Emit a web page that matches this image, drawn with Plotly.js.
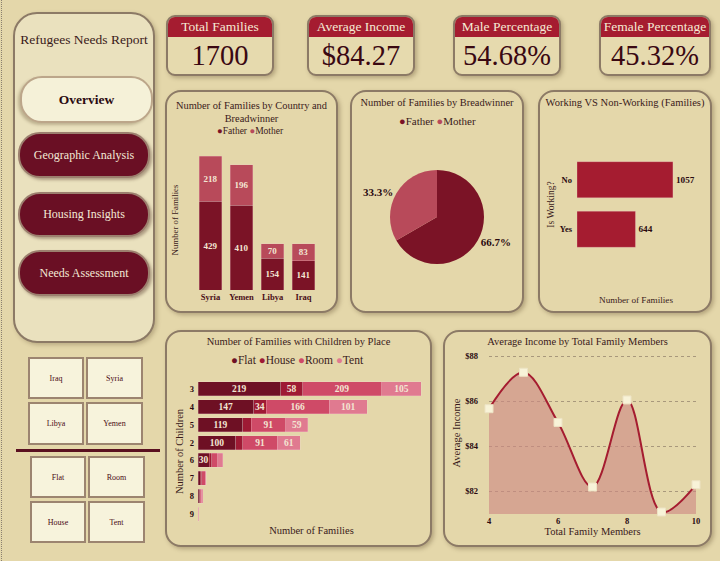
<!DOCTYPE html>
<html>
<head>
<meta charset="utf-8">
<script src="https://cdn.plot.ly/plotly-3.0.1.min.js"></script>
<style>
  html,body{margin:0;padding:0;}
  body{width:720px;height:561px;background:#E4D7AA;font-family:"Liberation Serif","Times New Roman",serif;overflow:hidden;position:relative;}
  .abs{position:absolute;box-sizing:border-box;}
  .panel{border:2px solid #8C7A66;border-radius:16px;box-shadow:2px 2px 4px rgba(90,70,40,0.35);background:#E4D7AA;}
  .side{border:2px solid #8C7A66;border-radius:24px;background:#EAE1BE;box-shadow:2px 2px 4px rgba(90,70,40,0.3);}
  .navtitle{text-align:center;font-size:13.5px;color:#3A1A1A;}
  .btn{border-radius:22px;display:flex;align-items:center;justify-content:center;font-size:12px;}
  .btn.on{background:#F5F1D8;border:2px solid #BCA68A;color:#2A0A10;font-weight:bold;font-size:13.5px;box-shadow:-2px 2px 3px rgba(90,70,40,0.3);}
  .btn.off{background:#6A0F24;border:2px solid #9C7F6E;color:#F3E9D6;box-shadow:2px 2px 3px rgba(60,30,20,0.35);}
  .tile{background:#F7F3DC;border:2px solid #9C8470;display:flex;align-items:center;justify-content:center;font-size:8px;color:#4A0A14;}
  .kpi{border:2px solid #8C7A66;border-radius:9px;background:#E6DAAE;overflow:hidden;box-shadow:2px 2px 4px rgba(90,70,40,0.35);}
  .kpi .hd{height:20px;background:#A51C30;color:#F5EBD5;font-size:13.5px;text-align:center;line-height:20px;white-space:nowrap;}
  .kpi .val{text-align:center;font-size:28.5px;color:#3A0812;line-height:38px;white-space:nowrap;}
  .plot{position:absolute;}
</style>
</head>
<body>
<div class="abs" style="left:1px;top:0;width:0;height:561px;border-left:1px dotted #8A8070;"></div>

<!-- side navigation -->
<div class="abs side" style="left:13px;top:12px;width:142px;height:331px;"></div>
<div class="abs navtitle" style="left:13px;top:32px;width:142px;">Refugees Needs Report</div>
<div class="abs btn on" style="left:20px;top:76px;width:133px;height:47px;">Overview</div>
<div class="abs btn off" style="left:18px;top:132px;width:132px;height:46px;">Geographic Analysis</div>
<div class="abs btn off" style="left:18px;top:192px;width:132px;height:45px;">Housing Insights</div>
<div class="abs btn off" style="left:18px;top:250px;width:132px;height:46px;">Needs Assessment</div>

<!-- slicers -->
<div class="abs tile" style="left:28px;top:357px;width:56px;height:42px;">Iraq</div>
<div class="abs tile" style="left:86px;top:357px;width:57px;height:42px;">Syria</div>
<div class="abs tile" style="left:28px;top:402px;width:56px;height:43px;">Libya</div>
<div class="abs tile" style="left:86px;top:402px;width:57px;height:43px;">Yemen</div>
<div class="abs" style="left:16px;top:449px;width:144px;height:3px;background:#5A1020;"></div>
<div class="abs tile" style="left:30px;top:456px;width:56px;height:42px;">Flat</div>
<div class="abs tile" style="left:88px;top:456px;width:57px;height:42px;">Room</div>
<div class="abs tile" style="left:30px;top:501px;width:56px;height:42px;">House</div>
<div class="abs tile" style="left:88px;top:501px;width:57px;height:42px;">Tent</div>

<!-- KPI cards -->
<div class="abs kpi" style="left:166px;top:15px;width:108px;height:61px;"><div class="hd" id="k1h"></div><div class="val" id="k1v"></div></div>
<div class="abs kpi" style="left:307px;top:15px;width:108px;height:61px;"><div class="hd" id="k2h"></div><div class="val" id="k2v"></div></div>
<div class="abs kpi" style="left:453px;top:15px;width:108px;height:61px;"><div class="hd" id="k3h"></div><div class="val" id="k3v"></div></div>
<div class="abs kpi" style="left:599px;top:15px;width:112px;height:61px;"><div class="hd" id="k4h"></div><div class="val" id="k4v"></div></div>

<!-- chart panels -->
<div class="abs panel" style="left:165px;top:90px;width:173px;height:223px;"></div>
<div class="abs panel" style="left:350px;top:90px;width:174px;height:223px;"></div>
<div class="abs panel" style="left:538px;top:90px;width:174px;height:223px;"></div>
<div class="abs panel" style="left:165px;top:330px;width:267px;height:217px;"></div>
<div class="abs panel" style="left:443px;top:330px;width:269px;height:217px;"></div>

<div id="c1" class="plot" style="left:165px;top:90px;width:173px;height:223px;"></div>
<div id="c2" class="plot" style="left:350px;top:90px;width:174px;height:223px;"></div>
<div id="c3" class="plot" style="left:538px;top:90px;width:174px;height:223px;"></div>
<div id="c4" class="plot" style="left:165px;top:330px;width:267px;height:217px;"></div>
<div id="c5" class="plot" style="left:443px;top:330px;width:269px;height:217px;"></div>

<script>
// ---------- data ----------
const kpiLabels = ['Total Families', 'Average Income', 'Male Percentage', 'Female Percentage'];
const kpiValues = ['1700', '$84.27', '54.68%', '45.32%'];

const countries = ['Syria', 'Yemen', 'Libya', 'Iraq'];
const fatherByCountry = [429, 410, 154, 141];
const motherByCountry = [218, 196, 70, 83];

const breadwinners = ['Father', 'Mother'];
const breadwinnerFamilies = [1134, 567];

const workingLabels = ['No', 'Yes'];
const workingFamilies = [1057, 644];

const childrenCounts = ['3', '4', '5', '2', '6', '7', '8', '9'];
const flatFamilies  = [219, 147, 119, 100, 30, 6, 4, 1];
const houseFamilies = [58, 34, 22, 19, 6, 4, 2, 0];
const roomFamilies  = [209, 166, 91, 91, 16, 9, 3, 1];
const tentFamilies  = [105, 101, 59, 61, 13, 3, 4, 0];
const places = ['Flat', 'House', 'Room', 'Tent'];

const familyMembers = [4, 5, 6, 7, 8, 9, 10];
const avgIncome = [85.68, 87.30, 85.07, 82.20, 86.07, 81.09, 82.30];
const incomeTicks = [82, 84, 86, 88];

// ---------- styles ----------
const FONT = '"Liberation Serif", "Times New Roman", serif';
const DARK = '#3A1A1A';
const C_FATHER = '#7B1326', C_MOTHER = '#B84A5A';
const PLACE_COLORS = ['#6E1024', '#9E1A34', '#CF4A67', '#E07A90'];
const LABEL_CREAM = '#F3E6D3';
const cfg = {staticPlot: true, displayModeBar: false};

kpiLabels.forEach((t, i) => {
  document.getElementById('k' + (i + 1) + 'h').textContent = t;
  document.getElementById('k' + (i + 1) + 'v').textContent = kpiValues[i];
});

function baseLayout(extra) {
  return Object.assign({
    paper_bgcolor: 'rgba(0,0,0,0)',
    plot_bgcolor: 'rgba(0,0,0,0)',
    font: {family: FONT, color: DARK},
    showlegend: false
  }, extra);
}
function dotLegend(names, colors) {
  return names.map((n, i) => '<span style="color:' + colors[i] + '">●</span>' + n).join(' ');
}

// ---------- chart 1: country stacked bars ----------
Plotly.newPlot('c1', [
  {type: 'bar', name: 'Father', x: countries, y: fatherByCountry, marker: {color: C_FATHER, line: {width: 0.5, color: 'rgba(240,200,200,0.6)'}},
   text: fatherByCountry, textposition: 'inside', insidetextanchor: 'middle', textangle: 0, constraintext: 'none',
   textfont: {family: FONT, size: 9, color: LABEL_CREAM, weight: 'bold'}},
  {type: 'bar', name: 'Mother', x: countries, y: motherByCountry, marker: {color: C_MOTHER, line: {width: 0.5, color: 'rgba(240,200,200,0.6)'}},
   text: motherByCountry, textposition: 'inside', insidetextanchor: 'middle', textangle: 0, constraintext: 'none',
   textfont: {family: FONT, size: 9, color: LABEL_CREAM, weight: 'bold'}}
], baseLayout({
  width: 173, height: 223,
  margin: {l: 30, r: 19, t: 60, b: 23},
  barmode: 'stack', bargap: 0.26,
  title: {text: 'Number of Families by Country and<br>Breadwinner', font: {size: 10.4, color: DARK}, x: 0.5, xanchor: 'center', y: 1 - 18.5 / 223, yanchor: 'middle', yref: 'container'},
  xaxis: {showgrid: false, zeroline: false, showline: false, ticks: '', tickfont: {size: 8.5, color: '#4A0E18', weight: 'bold'}},
  yaxis: {range: [0, 676], showgrid: false, zeroline: false, showticklabels: false, ticks: '',
          title: {text: 'Number of Families', font: {size: 8.8, color: DARK}, standoff: 13}},
  annotations: [{xref: 'paper', yref: 'paper', x: 0.45, y: 1 + (150 - 131) / 140, xanchor: 'center', yanchor: 'middle', showarrow: false,
                 text: dotLegend(breadwinners, [C_FATHER, C_MOTHER]), font: {size: 9.5, color: DARK}}]
}), cfg);

// ---------- chart 2: pie ----------
Plotly.newPlot('c2', [{
  type: 'pie', labels: breadwinners, values: breadwinnerFamilies, sort: false, direction: 'clockwise', rotation: 0,
  marker: {colors: [C_FATHER, C_MOTHER]}, textinfo: 'percent', texttemplate: '%{percent:.1%}', textposition: 'outside',
  textfont: {family: FONT, size: 11, color: '#2A0A10', weight: 'bold'}, hole: 0
}], baseLayout({
  width: 174, height: 223,
  margin: {l: 40, r: 40, t: 80, b: 49},
  title: {text: 'Number of Families by Breadwinner', font: {size: 10.4, color: DARK}, x: 0.5, xanchor: 'center', y: 1 - 12 / 223, yanchor: 'middle', yref: 'container'},
  annotations: [{xref: 'paper', yref: 'paper', x: 0.5, y: 1 + (127 - 47 - 30.7) / 94, xanchor: 'center', yanchor: 'middle', showarrow: false,
                 text: dotLegend(breadwinners, [C_FATHER, C_MOTHER]), font: {size: 11, color: DARK}}]
}), cfg);

// ---------- chart 3: working ----------
Plotly.newPlot('c3', [{
  type: 'bar', orientation: 'h', x: workingFamilies, y: workingLabels, marker: {color: '#A51C30', line: {width: 0.5, color: 'rgba(240,200,200,0.6)'}},
  text: workingFamilies, textposition: 'outside', cliponaxis: false,
  textfont: {family: FONT, size: 9.2, color: '#2A0A10', weight: 'bold'}
}], baseLayout({
  width: 174, height: 223,
  margin: {l: 39, r: 17, t: 64.5, b: 58.5},
  bargap: 0.27,
  title: {text: 'Working VS Non-Working (Families)', font: {size: 10.5, color: DARK}, x: 0.5, xanchor: 'center', y: 1 - 12 / 223, yanchor: 'middle', yref: 'container'},
  xaxis: {range: [0, 1300], showgrid: false, zeroline: false, showticklabels: false, ticks: '',
          title: {text: 'Number of Families', font: {size: 9.2, color: DARK}, standoff: 42}},
  yaxis: {autorange: 'reversed', showgrid: false, zeroline: false, ticks: '', ticklabelstandoff: 4, tickfont: {size: 8.5, color: '#2A0A10', weight: 'bold'},
          title: {text: 'Is Working?', font: {size: 9.5, color: DARK}, standoff: 3}}
}), cfg);

// ---------- chart 4: children by place ----------
const placeData = [flatFamilies, houseFamilies, roomFamilies, tentFamilies];
Plotly.newPlot('c4', placeData.map((vals, i) => ({
  type: 'bar', orientation: 'h', name: places[i], x: vals, y: childrenCounts,
  marker: {color: PLACE_COLORS[i], line: {width: 0.5, color: 'rgba(245,215,215,0.5)'}},
  text: vals.map(v => v >= 25 ? String(v) : ''), textposition: 'inside', insidetextanchor: 'middle', textangle: 0, constraintext: 'none',
  textfont: {family: FONT, size: 9.5, color: LABEL_CREAM, weight: 'bold'}
})), baseLayout({
  width: 267, height: 217,
  margin: {l: 33, r: 7, t: 50, b: 24},
  barmode: 'stack', bargap: 0.22,
  title: {text: 'Number of Families with Children by Place', font: {size: 10.5, color: DARK}, x: 0.5, xanchor: 'center', y: 1 - 11 / 217, yanchor: 'middle', yref: 'container'},
  xaxis: {range: [0, 601], showgrid: false, zeroline: false, showticklabels: false, ticks: '',
          title: {text: 'Number of Families', font: {size: 10.5, color: DARK}, standoff: 3}},
  yaxis: {type: 'category', autorange: 'reversed', showgrid: false, zeroline: false, ticks: '', ticklabelstandoff: 3, tickfont: {size: 8.5, color: '#2A0A10', weight: 'bold'},
          title: {text: 'Number of Children', font: {size: 10.5, color: DARK}, standoff: 4}},
  annotations: [{xref: 'paper', yref: 'paper', x: (297 - 198) / 227, y: 1 + (379.7 - 359.3) / 143.6, xanchor: 'center', yanchor: 'middle', showarrow: false,
                 text: dotLegend(places, PLACE_COLORS), font: {size: 11.5, color: DARK}}]
}), cfg);

// ---------- chart 5: average income ----------
Plotly.newPlot('c5', [{
  type: 'scatter', mode: 'lines+markers', x: familyMembers, y: avgIncome,
  line: {shape: 'spline', smoothing: 1, color: '#A51C30', width: 2},
  fill: 'tozeroy', fillcolor: 'rgba(205,135,130,0.62)',
  marker: {symbol: 'square', size: 8, color: '#F8F3D8', line: {width: 1, color: '#EDE3C4'}},
  cliponaxis: false
}], baseLayout({
  width: 269, height: 217,
  margin: {l: 46, r: 16, t: 21.5, b: 32.7},
  title: {text: 'Average Income by Total Family Members', font: {size: 10.5, color: DARK}, x: 0.5, xanchor: 'center', y: 1 - 11 / 217, yanchor: 'middle', yref: 'container'},
  xaxis: {range: [4, 10], tickvals: [4, 6, 8, 10], showgrid: false, zeroline: false, ticks: '', tickfont: {size: 8.5, color: '#2A0A10', weight: 'bold'},
          title: {text: 'Total Family Members', font: {size: 10.5, color: DARK}, standoff: 3}},
  yaxis: {range: [81.0, 88.2], tickmode: 'array', tickvals: incomeTicks, ticktext: incomeTicks.map(v => '$' + v),
          showgrid: true, gridcolor: '#A8987C', griddash: 'dot', gridwidth: 1, ticklabelstandoff: 10,
          zeroline: false, ticks: '', tickfont: {size: 8.5, color: '#2A0A10', weight: 'bold'},
          title: {text: 'Average Income', font: {size: 10.5, color: DARK}, standoff: 2}}
}), cfg);
</script>
</body>
</html>
